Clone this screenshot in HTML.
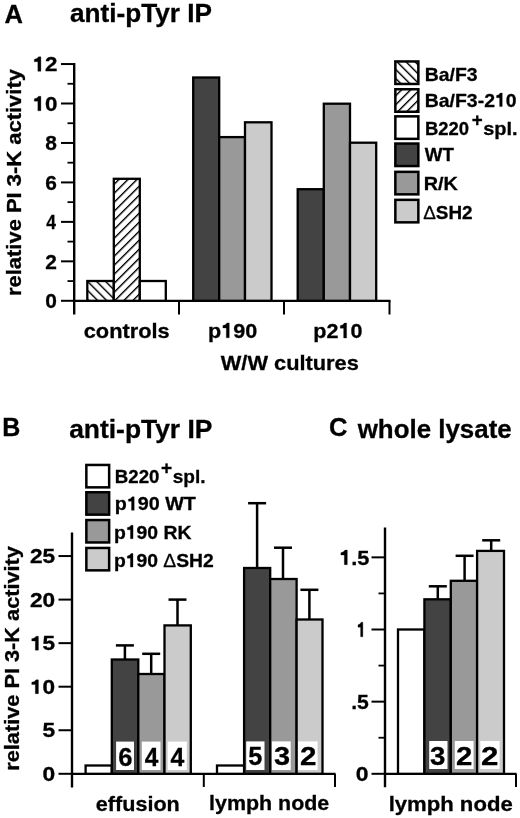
<!DOCTYPE html>
<html><head><meta charset="utf-8"><style>
html,body{margin:0;padding:0;background:#fff;width:520px;height:818px;overflow:hidden}
svg{display:block}
text{font-family:"Liberation Sans", sans-serif;fill:#000;font-weight:bold;stroke:#000;stroke-width:0.3px}
svg{filter:grayscale(1)}
.one{fill-opacity:0;stroke-opacity:0}
</style></head><body>
<svg width="520" height="818" viewBox="0 0 520 818">
<defs>
<pattern id="hb1" patternUnits="userSpaceOnUse" x="2.20" width="6.364" height="20" patternTransform="rotate(-45)"><rect width="6.364" height="20" fill="#fff"/><rect width="1.4" height="20" fill="#000"/></pattern>
<pattern id="hf1" patternUnits="userSpaceOnUse" x="0.29" width="6.364" height="20" patternTransform="rotate(45)"><rect width="6.364" height="20" fill="#fff"/><rect width="1.4" height="20" fill="#000"/></pattern>
<pattern id="hb2" patternUnits="userSpaceOnUse" x="0.86" width="6.364" height="20" patternTransform="rotate(-45)"><rect width="6.364" height="20" fill="#fff"/><rect width="1.4" height="20" fill="#000"/></pattern>
<pattern id="hf2" patternUnits="userSpaceOnUse" x="3.10" width="6.364" height="20" patternTransform="rotate(45)"><rect width="6.364" height="20" fill="#fff"/><rect width="1.4" height="20" fill="#000"/></pattern></defs>
<text x="4.50" y="22.50" font-size="25.5" textLength="18.42" lengthAdjust="spacingAndGlyphs">A</text>
<text x="69.99" y="21.70" font-size="26" textLength="142.11" lengthAdjust="spacingAndGlyphs">anti-pTyr IP</text>
<text transform="translate(20.8,0) rotate(-90)" x="-296.05" y="0" font-size="21" textLength="226.96" lengthAdjust="spacingAndGlyphs">relative PI 3-K activity</text>
<line x1="74.2" y1="63" x2="74.2" y2="314.5" stroke="#000" stroke-width="2.4"/>
<line x1="61" y1="300.8" x2="74" y2="300.8" stroke="#000" stroke-width="2.0"/>
<text x="45.28" y="308.10" font-size="20.5" textLength="11.63" lengthAdjust="spacingAndGlyphs">0</text>
<line x1="67.5" y1="281.07" x2="74" y2="281.07" stroke="#000" stroke-width="1.8"/>
<line x1="61" y1="261.34000000000003" x2="74" y2="261.34000000000003" stroke="#000" stroke-width="2.0"/>
<text x="45.28" y="268.64" font-size="20.5" textLength="11.63" lengthAdjust="spacingAndGlyphs">2</text>
<line x1="67.5" y1="241.61" x2="74" y2="241.61" stroke="#000" stroke-width="1.8"/>
<line x1="61" y1="221.88" x2="74" y2="221.88" stroke="#000" stroke-width="2.0"/>
<text x="46.30" y="229.18" font-size="20.5" textLength="9.70" lengthAdjust="spacingAndGlyphs">4</text>
<line x1="67.5" y1="202.15" x2="74" y2="202.15" stroke="#000" stroke-width="1.8"/>
<line x1="61" y1="182.42000000000002" x2="74" y2="182.42000000000002" stroke="#000" stroke-width="2.0"/>
<text x="45.28" y="189.72" font-size="20.5" textLength="11.63" lengthAdjust="spacingAndGlyphs">6</text>
<line x1="67.5" y1="162.69" x2="74" y2="162.69" stroke="#000" stroke-width="1.8"/>
<line x1="61" y1="142.96" x2="74" y2="142.96" stroke="#000" stroke-width="2.0"/>
<text x="45.28" y="150.26" font-size="20.5" textLength="11.63" lengthAdjust="spacingAndGlyphs">8</text>
<line x1="67.5" y1="123.23000000000002" x2="74" y2="123.23000000000002" stroke="#000" stroke-width="1.8"/>
<line x1="61" y1="103.5" x2="74" y2="103.5" stroke="#000" stroke-width="2.0"/>
<text class="has1" x="32.51" y="110.80" font-size="20.5" textLength="24.88" lengthAdjust="spacingAndGlyphs"><tspan class="one">1</tspan>0</text>
<line x1="67.5" y1="83.77000000000001" x2="74" y2="83.77000000000001" stroke="#000" stroke-width="1.8"/>
<line x1="61" y1="64.04000000000002" x2="74" y2="64.04000000000002" stroke="#000" stroke-width="2.0"/>
<text class="has1" x="32.51" y="71.34" font-size="20.5" textLength="24.88" lengthAdjust="spacingAndGlyphs"><tspan class="one">1</tspan>2</text>
<line x1="73" y1="300.8" x2="390.5" y2="300.8" stroke="#000" stroke-width="2.3"/>
<line x1="179" y1="300.8" x2="179" y2="314.5" stroke="#000" stroke-width="2.0"/>
<line x1="284" y1="300.8" x2="284" y2="314.5" stroke="#000" stroke-width="2.0"/>
<line x1="389.5" y1="300.8" x2="389.5" y2="314.5" stroke="#000" stroke-width="2.0"/>
<rect x="87.3" y="281" width="26.5" height="19.8" fill="url(#hb1)" stroke="#000" stroke-width="2.3"/>
<rect x="113.8" y="178.8" width="26.0" height="122.0" fill="url(#hf1)" stroke="#000" stroke-width="2.3"/>
<rect x="139.8" y="281" width="26.0" height="19.8" fill="#fff" stroke="#000" stroke-width="2.3"/>
<rect x="193.2" y="77.5" width="26.0" height="223.3" fill="#434343" stroke="#000" stroke-width="2.3"/>
<rect x="219.2" y="137.1" width="25.8" height="163.7" fill="#999999" stroke="#000" stroke-width="2.3"/>
<rect x="245" y="122.3" width="26.5" height="178.5" fill="#cbcbcb" stroke="#000" stroke-width="2.3"/>
<rect x="297.7" y="189.2" width="26.1" height="111.6" fill="#434343" stroke="#000" stroke-width="2.3"/>
<rect x="323.8" y="103.7" width="26.2" height="197.1" fill="#999999" stroke="#000" stroke-width="2.3"/>
<rect x="350" y="142.7" width="26.2" height="158.1" fill="#cbcbcb" stroke="#000" stroke-width="2.3"/>
<text x="83.76" y="337.70" font-size="21" textLength="85.91" lengthAdjust="spacingAndGlyphs">controls</text>
<text class="has1" x="207.97" y="337.80" font-size="21" textLength="49.23" lengthAdjust="spacingAndGlyphs">p<tspan class="one">1</tspan>90</text>
<text class="has1" x="313.37" y="338.00" font-size="21" textLength="49.12" lengthAdjust="spacingAndGlyphs">p2<tspan class="one">1</tspan>0</text>
<text x="220.80" y="370.40" font-size="21" textLength="138.05" lengthAdjust="spacingAndGlyphs">W/W cultures</text>
<text x="471.83" y="126.20" font-size="17.5" textLength="10.92" lengthAdjust="spacingAndGlyphs">+</text>
<text x="483.15" y="134.50" font-size="19" textLength="34.42" lengthAdjust="spacingAndGlyphs">spl.</text>
<text x="161.01" y="474.20" font-size="17.5" textLength="11.14" lengthAdjust="spacingAndGlyphs">+</text>
<text x="172.70" y="483.10" font-size="19" textLength="32.84" lengthAdjust="spacingAndGlyphs">spl.</text>
<rect x="395.35" y="61.45" width="23.0" height="22.5" fill="url(#hb2)" stroke="#000" stroke-width="2.5"/>
<text x="424.78" y="80.50" font-size="19" textLength="52.79" lengthAdjust="spacingAndGlyphs">Ba/F3</text>
<rect x="395.35" y="89.25" width="23.0" height="22.5" fill="url(#hf2)" stroke="#000" stroke-width="2.5"/>
<text class="has1" x="424.78" y="106.60" font-size="19" textLength="91.82" lengthAdjust="spacingAndGlyphs">Ba/F3-2<tspan class="one">1</tspan>0</text>
<rect x="395.35" y="116.35" width="23.0" height="22.5" fill="#fff" stroke="#000" stroke-width="2.5"/>
<text x="425.03" y="134.50" font-size="19" textLength="44.08" lengthAdjust="spacingAndGlyphs">B220</text>
<rect x="395.35" y="143.55" width="23.0" height="22.5" fill="#434343" stroke="#000" stroke-width="2.5"/>
<text x="424.80" y="161.30" font-size="19" textLength="29.15" lengthAdjust="spacingAndGlyphs">WT</text>
<rect x="395.35" y="171.85" width="23.0" height="22.5" fill="#999999" stroke="#000" stroke-width="2.5"/>
<text x="423.75" y="190.20" font-size="19" textLength="34.21" lengthAdjust="spacingAndGlyphs">R/K</text>
<rect x="395.35" y="199.85" width="23.0" height="22.5" fill="#cbcbcb" stroke="#000" stroke-width="2.5"/>
<text x="423.20" y="218.50" font-size="19" textLength="49.37" lengthAdjust="spacingAndGlyphs"><tspan font-weight="normal">Δ</tspan>SH2</text>
<text x="2.30" y="435.70" font-size="25" textLength="18.06" lengthAdjust="spacingAndGlyphs">B</text>
<text x="69.18" y="437.50" font-size="26" textLength="143.23" lengthAdjust="spacingAndGlyphs">anti-pTyr IP</text>
<text transform="translate(18.6,0) rotate(-90)" x="-770.73" y="0" font-size="21" textLength="224.65" lengthAdjust="spacingAndGlyphs">relative PI 3-K activity</text>
<line x1="72" y1="532.5" x2="72" y2="787.5" stroke="#000" stroke-width="2.4"/>
<line x1="58.5" y1="773.8" x2="72" y2="773.8" stroke="#000" stroke-width="2.0"/>
<text x="42.63" y="780.80" font-size="19.5" textLength="12.67" lengthAdjust="spacingAndGlyphs">0</text>
<line x1="58.5" y1="730.25" x2="72" y2="730.25" stroke="#000" stroke-width="2.0"/>
<text x="42.63" y="737.25" font-size="19.5" textLength="12.67" lengthAdjust="spacingAndGlyphs">5</text>
<line x1="58.5" y1="686.6999999999999" x2="72" y2="686.6999999999999" stroke="#000" stroke-width="2.0"/>
<text class="has1" x="29.94" y="693.70" font-size="19.5" textLength="25.18" lengthAdjust="spacingAndGlyphs"><tspan class="one">1</tspan>0</text>
<line x1="58.5" y1="643.15" x2="72" y2="643.15" stroke="#000" stroke-width="2.0"/>
<text class="has1" x="29.94" y="650.15" font-size="19.5" textLength="25.18" lengthAdjust="spacingAndGlyphs"><tspan class="one">1</tspan>5</text>
<line x1="58.5" y1="599.5999999999999" x2="72" y2="599.5999999999999" stroke="#000" stroke-width="2.0"/>
<text x="29.94" y="606.60" font-size="19.5" textLength="25.18" lengthAdjust="spacingAndGlyphs">20</text>
<line x1="58.5" y1="556.05" x2="72" y2="556.05" stroke="#000" stroke-width="2.0"/>
<text x="29.94" y="563.05" font-size="19.5" textLength="25.18" lengthAdjust="spacingAndGlyphs">25</text>
<line x1="71" y1="773.8" x2="335.5" y2="773.8" stroke="#000" stroke-width="2.3"/>
<line x1="203.8" y1="773.8" x2="203.8" y2="787" stroke="#000" stroke-width="2.0"/>
<line x1="335" y1="773.8" x2="335" y2="787" stroke="#000" stroke-width="2.0"/>
<rect x="86.35" y="464.95" width="22.8" height="22.4" fill="#fff" stroke="#000" stroke-width="2.5"/>
<text x="114.82" y="483.20" font-size="19" textLength="44.60" lengthAdjust="spacingAndGlyphs">B220</text>
<rect x="86.35" y="492.25" width="22.8" height="22.4" fill="#434343" stroke="#000" stroke-width="2.5"/>
<text class="has1" x="114.76" y="510.30" font-size="19" textLength="81.07" lengthAdjust="spacingAndGlyphs">p<tspan class="one">1</tspan>90 WT</text>
<rect x="86.35" y="520.05" width="22.8" height="22.4" fill="#999999" stroke="#000" stroke-width="2.5"/>
<text class="has1" x="113.98" y="538.70" font-size="19" textLength="77.45" lengthAdjust="spacingAndGlyphs">p<tspan class="one">1</tspan>90 RK</text>
<rect x="86.35" y="547.95" width="22.8" height="22.4" fill="#cbcbcb" stroke="#000" stroke-width="2.5"/>
<text class="has1" x="113.98" y="567.10" font-size="19" textLength="99.79" lengthAdjust="spacingAndGlyphs">p<tspan class="one">1</tspan>90 <tspan font-weight="normal">Δ</tspan>SH2</text>
<rect x="85.6" y="765.5" width="26.2" height="8.3" fill="#fff" stroke="#000" stroke-width="2.3"/>
<rect x="111.8" y="659.5" width="26.5" height="114.3" fill="#434343" stroke="#000" stroke-width="2.3"/>
<rect x="138.3" y="674" width="26.2" height="99.8" fill="#999999" stroke="#000" stroke-width="2.3"/>
<rect x="164.5" y="625.4" width="26.3" height="148.4" fill="#cbcbcb" stroke="#000" stroke-width="2.3"/>
<line x1="124.9" y1="659.5" x2="124.9" y2="645.4" stroke="#000" stroke-width="2.5"/>
<line x1="115.9" y1="645.4" x2="133.9" y2="645.4" stroke="#000" stroke-width="2.5"/>
<line x1="151.2" y1="674" x2="151.2" y2="653.8" stroke="#000" stroke-width="2.5"/>
<line x1="142.2" y1="653.8" x2="160.2" y2="653.8" stroke="#000" stroke-width="2.5"/>
<line x1="177.5" y1="625.4" x2="177.5" y2="599.6" stroke="#000" stroke-width="2.5"/>
<line x1="168.5" y1="599.6" x2="186.5" y2="599.6" stroke="#000" stroke-width="2.5"/>
<rect x="116.1" y="741.6" width="17.9" height="28.4" fill="#fff"/>
<text x="118.20" y="765.60" font-size="25.5" textLength="14.19" lengthAdjust="spacingAndGlyphs">6</text>
<rect x="141.8" y="741.6" width="18.7" height="28.4" fill="#fff"/>
<text x="144.80" y="765.60" font-size="25.5" textLength="13.58" lengthAdjust="spacingAndGlyphs">4</text>
<rect x="167.7" y="741.6" width="19.1" height="28.4" fill="#fff"/>
<text x="170.60" y="765.60" font-size="25.5" textLength="13.78" lengthAdjust="spacingAndGlyphs">4</text>
<rect x="217" y="765.5" width="27.1" height="8.3" fill="#fff" stroke="#000" stroke-width="2.3"/>
<rect x="244.1" y="568" width="26.1" height="205.8" fill="#434343" stroke="#000" stroke-width="2.3"/>
<rect x="270.2" y="579" width="26.4" height="194.8" fill="#999999" stroke="#000" stroke-width="2.3"/>
<rect x="296.6" y="619.5" width="25.9" height="154.3" fill="#cbcbcb" stroke="#000" stroke-width="2.3"/>
<line x1="257.1" y1="568" x2="257.1" y2="503.2" stroke="#000" stroke-width="2.5"/>
<line x1="248.10000000000002" y1="503.2" x2="266.1" y2="503.2" stroke="#000" stroke-width="2.5"/>
<line x1="283" y1="579" x2="283" y2="547.7" stroke="#000" stroke-width="2.5"/>
<line x1="274" y1="547.7" x2="292" y2="547.7" stroke="#000" stroke-width="2.5"/>
<line x1="309.4" y1="619.5" x2="309.4" y2="589.8" stroke="#000" stroke-width="2.5"/>
<line x1="300.4" y1="589.8" x2="318.4" y2="589.8" stroke="#000" stroke-width="2.5"/>
<rect x="246.2" y="741.4" width="18.3" height="28.6" fill="#fff"/>
<text x="248.21" y="765.00" font-size="25.5" textLength="14.08" lengthAdjust="spacingAndGlyphs">5</text>
<rect x="271.9" y="741.4" width="18.8" height="28.6" fill="#fff"/>
<text x="273.97" y="765.00" font-size="25.5" textLength="16.08" lengthAdjust="spacingAndGlyphs">3</text>
<rect x="298" y="741.4" width="19.6" height="28.6" fill="#fff"/>
<text x="300.14" y="765.00" font-size="25.5" textLength="16.43" lengthAdjust="spacingAndGlyphs">2</text>
<text x="95.87" y="810.60" font-size="21" textLength="83.92" lengthAdjust="spacingAndGlyphs">effusion</text>
<text x="209.08" y="809.80" font-size="21" textLength="120.18" lengthAdjust="spacingAndGlyphs">lymph node</text>
<text x="329.08" y="436.00" font-size="25" textLength="18.51" lengthAdjust="spacingAndGlyphs">C</text>
<text x="357.70" y="437.60" font-size="26" textLength="154.02" lengthAdjust="spacingAndGlyphs">whole lysate</text>
<line x1="385" y1="527.5" x2="385" y2="787.3" stroke="#000" stroke-width="2.4"/>
<line x1="371.5" y1="773.8" x2="384.8" y2="773.8" stroke="#000" stroke-width="2.0"/>
<line x1="378.5" y1="737.7249999999999" x2="384.8" y2="737.7249999999999" stroke="#000" stroke-width="1.8"/>
<line x1="371.5" y1="701.65" x2="384.8" y2="701.65" stroke="#000" stroke-width="2.0"/>
<line x1="378.5" y1="665.5749999999999" x2="384.8" y2="665.5749999999999" stroke="#000" stroke-width="1.8"/>
<line x1="371.5" y1="629.5" x2="384.8" y2="629.5" stroke="#000" stroke-width="2.0"/>
<line x1="378.5" y1="593.425" x2="384.8" y2="593.425" stroke="#000" stroke-width="1.8"/>
<line x1="371.5" y1="557.3499999999999" x2="384.8" y2="557.3499999999999" stroke="#000" stroke-width="2.0"/>
<text x="355.68" y="781.10" font-size="20.5" textLength="12.77" lengthAdjust="spacingAndGlyphs">0</text>
<text x="351.17" y="708.95" font-size="20.5" textLength="17.64" lengthAdjust="spacingAndGlyphs">.5</text>
<text class="has1" x="356.70" y="636.80" font-size="20.5" textLength="9.12" lengthAdjust="spacingAndGlyphs"><tspan class="one">1</tspan></text>
<text class="has1" x="339.14" y="564.65" font-size="20.5" textLength="30.29" lengthAdjust="spacingAndGlyphs"><tspan class="one">1</tspan>.5</text>
<line x1="383.8" y1="773.8" x2="516.5" y2="773.8" stroke="#000" stroke-width="2.3"/>
<line x1="516" y1="773.8" x2="516" y2="787" stroke="#000" stroke-width="2.0"/>
<rect x="398" y="629.5" width="26.4" height="144.3" fill="#fff" stroke="#000" stroke-width="2.3"/>
<rect x="424.4" y="599.3" width="26.4" height="174.5" fill="#434343" stroke="#000" stroke-width="2.3"/>
<rect x="450.8" y="580.8" width="26.3" height="193.0" fill="#999999" stroke="#000" stroke-width="2.3"/>
<rect x="477.1" y="550.9" width="26.9" height="222.9" fill="#cbcbcb" stroke="#000" stroke-width="2.3"/>
<line x1="437.8" y1="599.3" x2="437.8" y2="586.3" stroke="#000" stroke-width="2.5"/>
<line x1="428.8" y1="586.3" x2="446.8" y2="586.3" stroke="#000" stroke-width="2.5"/>
<line x1="464.6" y1="580.8" x2="464.6" y2="555.8" stroke="#000" stroke-width="2.5"/>
<line x1="455.6" y1="555.8" x2="473.6" y2="555.8" stroke="#000" stroke-width="2.5"/>
<line x1="491.2" y1="550.9" x2="491.2" y2="540.3" stroke="#000" stroke-width="2.5"/>
<line x1="482.2" y1="540.3" x2="500.2" y2="540.3" stroke="#000" stroke-width="2.5"/>
<rect x="429.2" y="741" width="18.3" height="28" fill="#fff"/>
<text x="430.12" y="764.50" font-size="25.5" textLength="15.37" lengthAdjust="spacingAndGlyphs">3</text>
<rect x="454.8" y="741" width="18.8" height="28" fill="#fff"/>
<text x="456.05" y="764.50" font-size="25.5" textLength="16.32" lengthAdjust="spacingAndGlyphs">2</text>
<rect x="480.3" y="741" width="19.3" height="28" fill="#fff"/>
<text x="481.07" y="764.50" font-size="25.5" textLength="17.38" lengthAdjust="spacingAndGlyphs">2</text>
<text x="388.65" y="811.00" font-size="21" textLength="124.04" lengthAdjust="spacingAndGlyphs">lymph node</text>
<path d="M40.90,110.80 L40.90,96.25 L38.55,96.25 Q37.43,98.50 34.30,98.81 L34.30,101.16 L37.84,101.16 L37.84,110.80 Z" fill="#000" stroke="#000" stroke-width="0.3"/>
<path d="M40.90,71.34 L40.90,56.79 L38.55,56.79 Q37.43,59.04 34.30,59.35 L34.30,61.71 L37.84,61.71 L37.84,71.34 Z" fill="#000" stroke="#000" stroke-width="0.3"/>
<path d="M229.27,337.80 L229.27,322.89 L227.00,322.89 Q225.92,325.20 222.89,325.51 L222.89,327.93 L226.31,327.93 L226.31,337.80 Z" fill="#000" stroke="#000" stroke-width="0.3"/>
<path d="M346.60,338.00 L346.60,323.09 L344.34,323.09 Q343.26,325.40 340.24,325.71 L340.24,328.13 L343.65,328.13 L343.65,338.00 Z" fill="#000" stroke="#000" stroke-width="0.3"/>
<path d="M502.26,106.60 L502.26,93.11 L500.22,93.11 Q499.25,95.20 496.52,95.48 L496.52,97.67 L499.60,97.67 L499.60,106.60 Z" fill="#000" stroke="#000" stroke-width="0.3"/>
<path d="M38.43,693.70 L38.43,679.86 L36.05,679.86 Q34.92,682.00 31.75,682.29 L31.75,684.54 L35.33,684.54 L35.33,693.70 Z" fill="#000" stroke="#000" stroke-width="0.3"/>
<path d="M38.43,650.15 L38.43,636.30 L36.05,636.30 Q34.92,638.45 31.75,638.74 L31.75,640.99 L35.33,640.99 L35.33,650.15 Z" fill="#000" stroke="#000" stroke-width="0.3"/>
<path d="M134.21,510.30 L134.21,496.81 L132.13,496.81 Q131.15,498.90 128.38,499.19 L128.38,501.37 L131.50,501.37 L131.50,510.30 Z" fill="#000" stroke="#000" stroke-width="0.3"/>
<path d="M133.07,538.70 L133.07,525.21 L131.04,525.21 Q130.07,527.30 127.35,527.59 L127.35,529.77 L130.42,529.77 L130.42,538.70 Z" fill="#000" stroke="#000" stroke-width="0.3"/>
<path d="M133.01,567.10 L133.01,553.61 L130.98,553.61 Q130.02,555.70 127.31,555.99 L127.31,558.17 L130.37,558.17 L130.37,567.10 Z" fill="#000" stroke="#000" stroke-width="0.3"/>
<path d="M362.85,636.80 L362.85,622.25 L361.13,622.25 Q360.31,624.50 358.01,624.81 L358.01,627.16 L360.60,627.16 L360.60,636.80 Z" fill="#000" stroke="#000" stroke-width="0.3"/>
<path d="M347.31,564.65 L347.31,550.10 L345.02,550.10 Q343.93,552.35 340.88,552.66 L340.88,555.01 L344.33,555.01 L344.33,564.65 Z" fill="#000" stroke="#000" stroke-width="0.3"/>
</svg>
</body></html>
